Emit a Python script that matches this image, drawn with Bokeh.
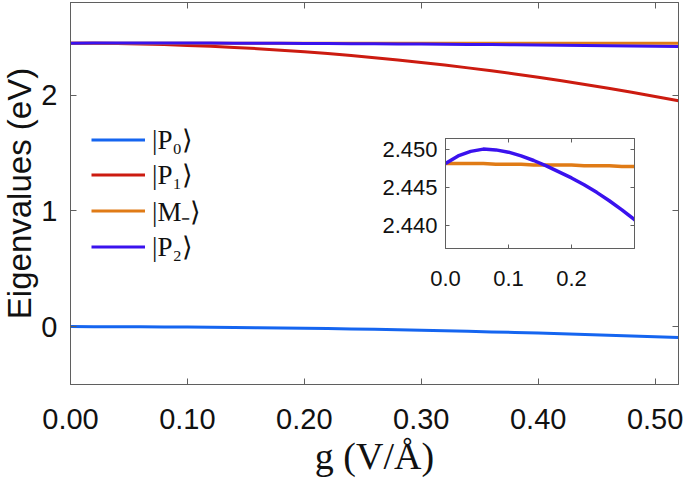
from bokeh.plotting import figure
from bokeh.models import (Range1d, LinearAxis, FixedTicker, NumeralTickFormatter, Legend,
                          LegendItem, CustomLabelingPolicy)
from bokeh.layouts import column
from bokeh.embed import file_html
from bokeh.resources import INLINE

# field strength g (V/Å)
g = [0.00, 0.02, 0.04, 0.06, 0.08, 0.10, 0.12, 0.14, 0.16, 0.18, 0.20, 0.22, 0.24, 0.26,
     0.28, 0.30, 0.32, 0.34, 0.36, 0.38, 0.40, 0.42, 0.44, 0.46, 0.48, 0.50, 0.52]

# eigenvalues (eV)
P0 = [0.0000, -0.0001, -0.0006, -0.0013, -0.0022, -0.0035, -0.0050, -0.0069, -0.0090,
      -0.0113, -0.0140, -0.0169, -0.0202, -0.0237, -0.0274, -0.0315, -0.0358, -0.0405,
      -0.0454, -0.0505, -0.0560, -0.0617, -0.0678, -0.0741, -0.0806, -0.0875, -0.0946]
P1 = [2.4480, 2.4473, 2.4451, 2.4414, 2.4362, 2.4296, 2.4215, 2.4119, 2.4009, 2.3884,
      2.3744, 2.3589, 2.3420, 2.3236, 2.3037, 2.2824, 2.2596, 2.2353, 2.2095, 2.1823,
      2.1536, 2.1234, 2.0918, 2.0587, 2.0241, 1.9880, 1.9505]
Mm = [2.4482, 2.4482, 2.4482, 2.4482, 2.4481, 2.4481, 2.4481, 2.4480, 2.4480, 2.4480,
      2.4480, 2.4479, 2.4479, 2.4479, 2.4478, 2.4478, 2.4478, 2.4477, 2.4477, 2.4477,
      2.4476, 2.4476, 2.4476, 2.4475, 2.4475, 2.4474, 2.4474]
P2 = [2.4482, 2.4492, 2.4498, 2.4501, 2.4500, 2.4497, 2.4492, 2.4486, 2.4479, 2.4471,
      2.4463, 2.4454, 2.4444, 2.4433, 2.4421, 2.4408, 2.4394, 2.4379, 2.4363, 2.4346,
      2.4328, 2.4309, 2.4289, 2.4268, 2.4246, 2.4223, 2.4199]

labels = ["|P\u2080\u27e9", "|P\u2081\u27e9", "|M\u208b\u27e9", "|P\u2082\u27e9"]
colors = ["#1565F0", "#CC1B10", "#E07B16", "#3A12EE"]

x_ticks = [0.0, 0.1, 0.2, 0.3, 0.4, 0.5]
y_ticks = [0, 1, 2]
inset_x_ticks = [0.0, 0.1, 0.2]
inset_y_ticks = [2.440, 2.445, 2.450]

AX = "#5f5f5f"
SANS = "Liberation Sans"
SERIF = "Liberation Serif"

HIDE = "for (let i = 0; i < indices.size; i++) { indices.unset(i) }; return indices"

SHIFT = 15   # left border beyond the wanted 70px, pulled back with a negative margin
EXTRA = 9    # extra width so the frame reaches x=677; the overflow is clipped


def style_axis(ax, ticks, fmt, size, tick_len, standoff, show_labels=True):
    ax.ticker = FixedTicker(ticks=ticks)
    ax.formatter = NumeralTickFormatter(format=fmt)
    ax.axis_line_color = AX
    ax.major_tick_line_color = AX
    ax.major_tick_in = tick_len
    ax.major_tick_out = 0
    ax.minor_tick_line_color = None
    ax.major_label_text_font = SANS
    ax.major_label_text_color = "#111111"
    if show_labels:
        ax.major_label_text_font_size = size
        ax.major_label_standoff = standoff
    else:
        ax.major_label_text_font_size = "0px"
        ax.major_label_standoff = 0
        ax.axis_label_standoff = 0
        ax.major_label_policy = CustomLabelingPolicy(code=HIDE)


FIG_W = 685 + SHIFT + EXTRA
p = figure(width=FIG_W, height=482, x_range=Range1d(0, 0.52),
           y_range=Range1d(-0.5, 2.8), output_backend="svg", toolbar_location=None,
           min_border_left=70 + SHIFT, min_border_right=8, min_border_top=2, min_border_bottom=98)
p.xgrid.visible = False
p.ygrid.visible = False
p.outline_line_color = AX
p.background_fill_color = "white"
p.border_fill_color = "white"
p.styles = {"flex-shrink": "0", "min-width": f"{FIG_W}px"}

renderers = []
for ys, c in zip([P0, P1, Mm, P2], colors):
    renderers.append(p.line(g, ys, line_color=c, line_width=3))

style_axis(p.xaxis[0], x_ticks, "0.00", "29px", 6, 24)
style_axis(p.yaxis[0], y_ticks, "0", "29px", 6, 13)
p.xaxis[0].axis_label = "g (V/\u00c5)"
p.xaxis[0].axis_label_text_font = SERIF
p.xaxis[0].axis_label_text_font_style = "normal"
p.xaxis[0].axis_label_text_font_size = "38px"
p.xaxis[0].axis_label_standoff = 3
p.xaxis[0].axis_label_text_color = "#111111"
p.yaxis[0].axis_label = "Eigenvalues (eV)"
p.yaxis[0].axis_label_text_font = SANS
p.yaxis[0].axis_label_text_font_style = "normal"
p.yaxis[0].axis_label_text_font_size = "33px"
p.yaxis[0].axis_label_standoff = 0
p.yaxis[0].axis_label_text_color = "#111111"

rax = LinearAxis()
style_axis(rax, y_ticks, "0", "0px", 6, 0, show_labels=False)
p.add_layout(rax, "right")
tax = LinearAxis()
style_axis(tax, x_ticks, "0.00", "0px", 6, 0, show_labels=False)
p.add_layout(tax, "above")

legend = Legend(items=[LegendItem(label=l, renderers=[r]) for l, r in zip(labels, renderers)],
                location=(21, 120), margin=0, padding=0, spacing=0,
                glyph_width=54, glyph_height=35, label_height=35, label_standoff=7,
                label_text_font=SERIF, label_text_font_size="27px", label_text_color="#111111",
                border_line_alpha=0, background_fill_alpha=0)
p.add_layout(legend)

# inset
inset = figure(width=290, height=172, x_range=Range1d(0, 0.3), y_range=Range1d(2.437, 2.4515),
               output_backend="svg", toolbar_location=None,
               min_border_left=78, min_border_right=16, min_border_top=10, min_border_bottom=52)
inset.xgrid.visible = False
inset.ygrid.visible = False
inset.outline_line_color = AX
inset.background_fill_color = "white"
inset.border_fill_alpha = 0
inset.line(g, Mm, line_color=colors[2], line_width=3.5)
inset.line(g, P2, line_color=colors[3], line_width=3.5)
style_axis(inset.xaxis[0], inset_x_ticks, "0.0", "22px", 4, 22)
style_axis(inset.yaxis[0], inset_y_ticks, "0.000", "22px", 4, 8)
irax = LinearAxis()
style_axis(irax, inset_y_ticks, "0.000", "0px", 4, 0, show_labels=False)
inset.add_layout(irax, "right")
itax = LinearAxis()
style_axis(itax, inset_x_ticks, "0.0", "0px", 4, 0, show_labels=False)
inset.add_layout(itax, "above")
inset.styles = {"position": "absolute", "left": f"{360 + SHIFT}px", "top": "128px"}

layout = column(p, inset)
layout.styles = {"position": "relative", "margin-left": f"-{SHIFT}px",
                 "width": f"{685 + SHIFT}px", "height": "482px", "overflow": "hidden"}

open("out.html", "w").write(file_html(layout, INLINE))
